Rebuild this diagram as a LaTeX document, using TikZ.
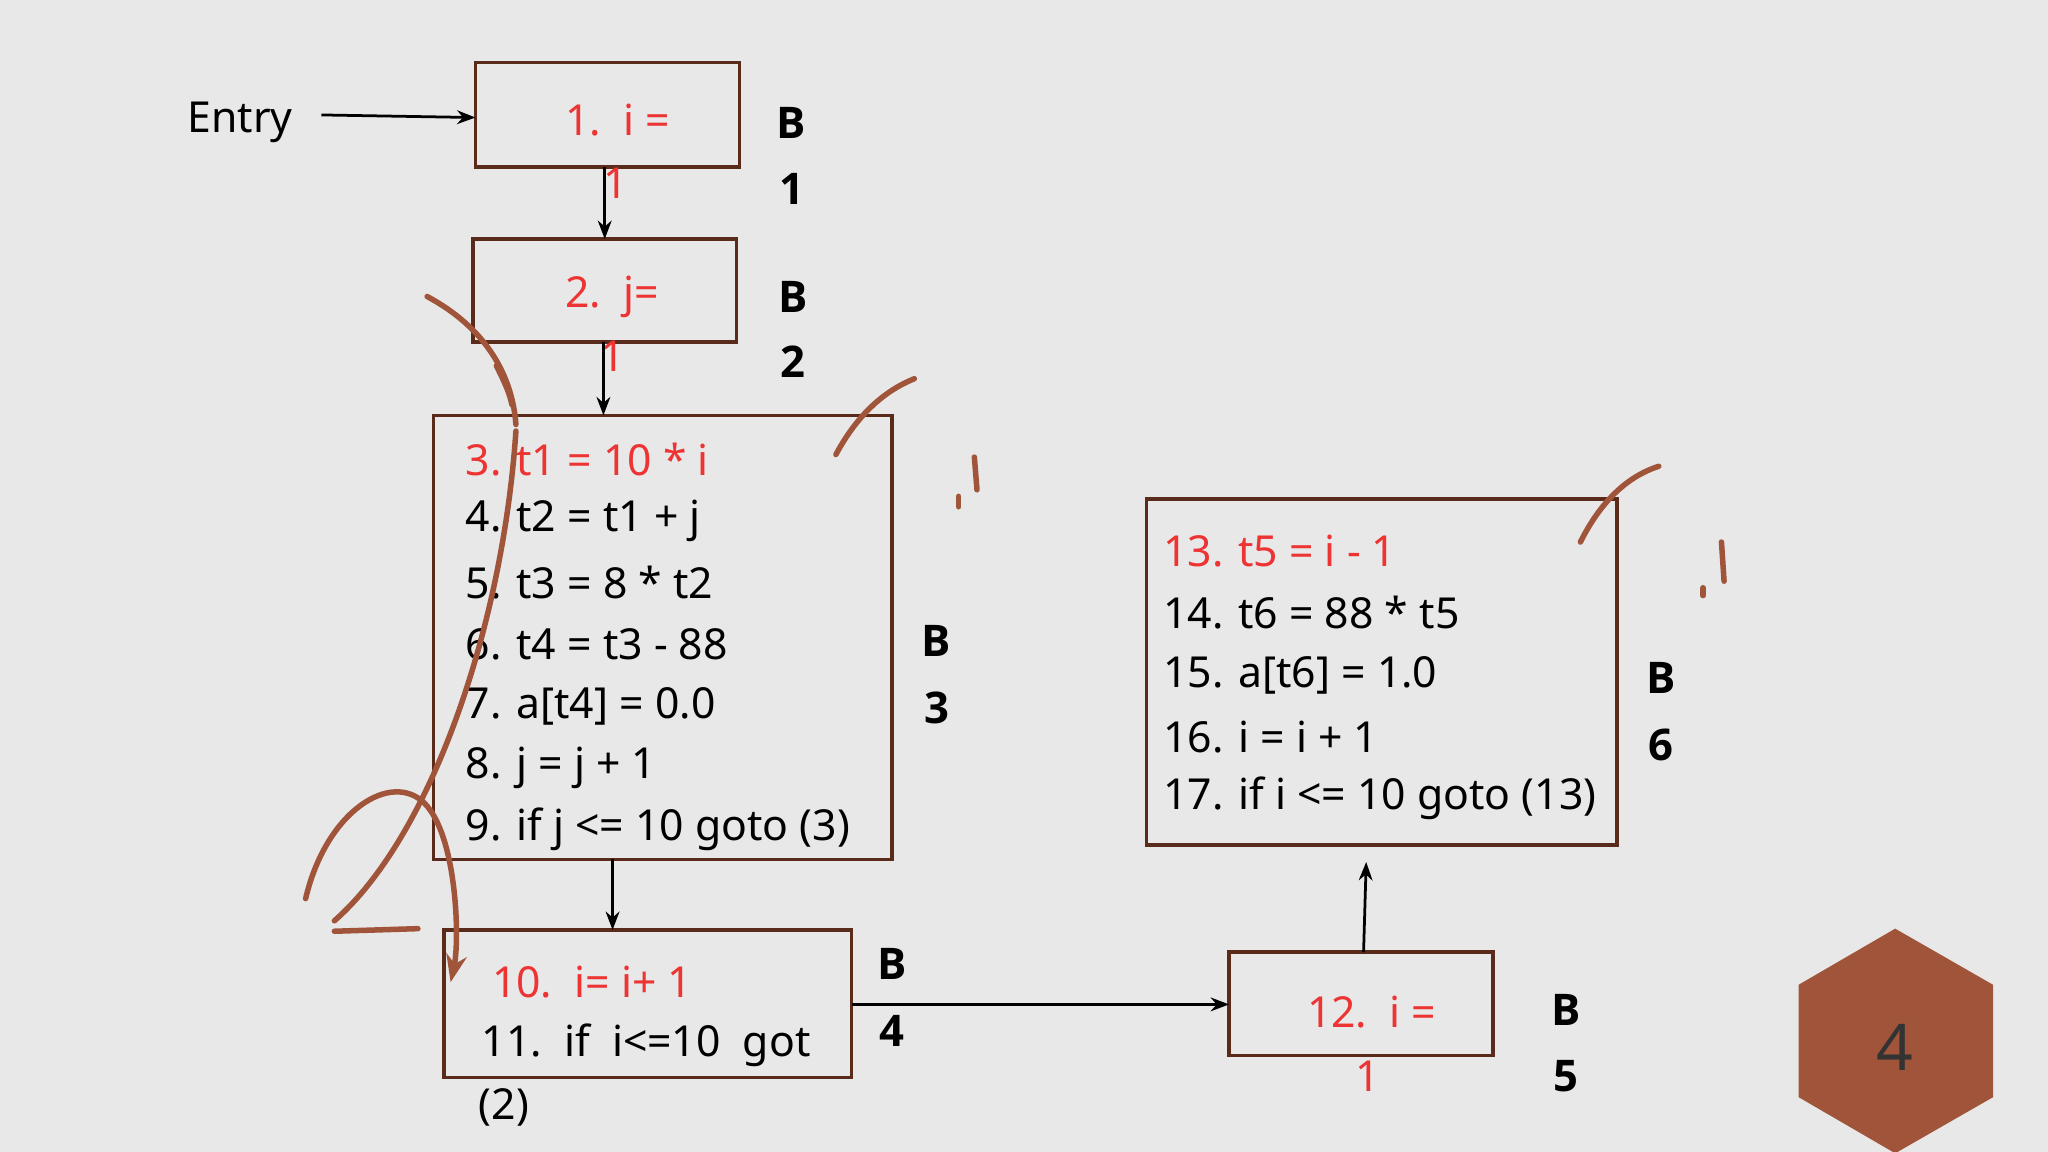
\documentclass[tikz,border=0pt]{standalone}
\usepackage{fontspec}
\setmainfont{Noto Sans}
\newfontfamily\labfont{Open Sans}
\usetikzlibrary{arrows.meta}
\definecolor{bg}{HTML}{E8E8E8}
\definecolor{bx}{HTML}{5A2A1A}
\definecolor{rd}{HTML}{EE3333}
\definecolor{hx}{HTML}{A0553A}
\definecolor{scr}{HTML}{A0553A}
\begin{document}
\begin{tikzpicture}[x=0.01cm,y=-0.01cm,
  blk/.style={draw=bx,line width=0.75pt},
  txt/.style={font=\fontsize{9.3}{11}\selectfont,inner sep=0pt,anchor=west},
  lab/.style={font=\labfont\fontsize{9.5}{11}\selectfont\bfseries,inner sep=0pt},
  arr/.style={-{Stealth[length=4pt,width=3pt]},line width=0.6pt},
  sc/.style={draw=scr,line width=1.2pt,line cap=round}]
\fill[bg] (0,0) rectangle (1568,882);
\useasboundingbox (0,0) rectangle (1568,882);
% boxes
\draw[blk] (364,48) rectangle (566,128);
\coordinate (b1b) at (463,128); \coordinate (b2t) at (463,183);
\draw[blk] (362,183) rectangle (564,262);
\coordinate (b2b) at (462,262); \coordinate (b3t) at (462,318);
\draw[blk] (332,318) rectangle (683,658);
\coordinate (b3b) at (469,658); \coordinate (b4t) at (469,712);
\draw[blk] (340,712) rectangle (652,825);
\coordinate (b4r) at (652,769); \coordinate (b5l) at (941,769);
\draw[blk] (941,729) rectangle (1143,808);
\coordinate (b5t) at (1044,729); \coordinate (b6b) at (1046,660);
\draw[blk] (878,382) rectangle (1238,647);
% texts
\node[txt,text=rd] (t1) at (432,92) {1.\ \ i =};
\node[txt,text=rd] (t1b) at (461,140) {1};
\node[txt,text=rd] (t2) at (432,227) {2.\ \ j=};
\node[txt,text=rd] (t2b) at (459,273) {1};
\node[txt,text=rd] (l3) at (356,352) {3. t1 = 10 * i};
\node[txt] (l4) at (356,399) {4. t2 = t1 + j};
\node[txt] (l5) at (356,446) {5. t3 = 8 * t2};
\node[txt] (l6) at (356,493) {6. t4 = t3 - 88};
\node[txt] (l7) at (356,541) {7. a[t4] = 0.0};
\node[txt] (l8) at (356,588) {8. j = j + 1};
\node[txt] (l9) at (356,635) {9. if j <= 10 goto (3)};
\node[txt,text=rd] (l10) at (376,752) {10.\ \ i= i+ 1};
\node[txt] (l11) at (368,800) {11.\ \ if\ \ i<=10\ \ got};
\node[txt] (l11b) at (366,848) {(2)};
\node[txt,text=rd] (l12) at (1000,775) {12.\ \ i =};
\node[txt,text=rd] (l12b) at (1037,824) {1};
\node[txt,text=rd] (l13) at (890,422) {13. t5 = i - 1};
\node[txt] (l14) at (890,469) {14. t6 = 88 * t5};
\node[txt] (l15) at (890,517) {15. a[t6] = 1.0};
\node[txt] (l16) at (890,564) {16. i = i + 1};
\node[txt] (l17) at (890,611) {17. if i <= 10 goto (13)};
\node[txt] (entry) at (143,94) {Entry};
% labels
\foreach \x/\y/\a/\n in {606/94/B/1,606/145/1/2,607/227/B/3,607/277/2/4,717/491/B/5,717/542/3/6,683/738/B/7,683/789/4/8,1272/519/B/9,1272/570/6/10,1199/773/B/11,1199/824/5/12}
  \node[lab] (lb\n) at (\x,\y) {\a};
% arrows
\coordinate (e1) at (246,88); \coordinate (e2) at (364,90);
\draw[arr] (e1) -- (e2);
\draw[arr] (b1b) -- (b2t);
\draw[arr] (b2b) -- (b3t);
\draw[arr] (b3b) -- (b4t);
\draw[arr] (b4r) -- (b5l);
\draw[arr] (b5t) -- (b6b);
% hexagon
\fill[hx] (1451,711) -- (1526,754) -- (1526,840) -- (1451,883) -- (1377,840) -- (1377,754) -- cycle;
\node[font=\fontsize{14}{16}\selectfont,text=black!80] (four) at (1451,802) {4};
% scribbles
\draw[sc] (327,227) .. controls (370,250) and (392,285) .. (395,325);
\draw[sc] (380,280) .. controls (385,290) and (390,300) .. (392,310);
\draw[sc] (395,330) .. controls (385,480) and (330,640) .. (256,705);
\draw[sc] (256,713) -- (320,711);
\draw[sc] (640,348) .. controls (655,320) and (675,300) .. (700,290);
\draw[sc] (1210,415) .. controls (1225,385) and (1245,365) .. (1270,357);
\draw[sc] (746,350) -- (748,375); \draw[sc] (734,380) -- (734,388);
\draw[sc] (1318,415) -- (1320,445); \draw[sc] (1304,450) -- (1304,456);
\draw[sc,-{Stealth[length=6pt]}] (234,688) .. controls (250,620) and (300,590) .. (325,615) .. controls (350,640) and (352,720) .. (345,752);
\end{tikzpicture}
\end{document}
